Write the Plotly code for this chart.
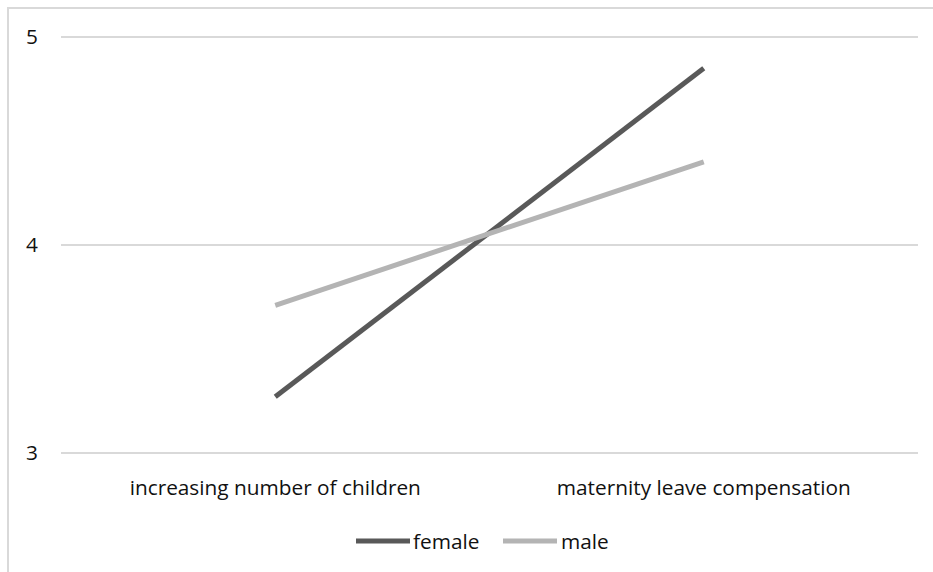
import plotly.graph_objects as go

categories = ["increasing number of children", "maternity leave compensation"]
series_names = ["female", "male"]
female = [3.27, 4.85]
male = [3.71, 4.40]
y_ticks = [3, 4, 5]
colors = ["#595959", "#b4b4b4"]

fig = go.Figure()
for name, vals, col in zip(series_names, [female, male], colors):
    fig.add_trace(go.Scatter(x=categories, y=vals, mode="lines", name=name,
                             line=dict(color=col, width=5), showlegend=False))

W, H = 933, 572
ml, mr, mt, mb = 61, 15, 35, 117
pw, ph = W - ml - mr, H - mt - mb

FONT = "Open Sans, sans-serif"
FS = 20.8
fig.update_layout(
    width=W, height=H,
    margin=dict(l=ml, r=mr, t=mt, b=mb),
    paper_bgcolor="white", plot_bgcolor="white",
    font=dict(family=FONT, size=FS, color="#111111"),
    showlegend=False,
    xaxis=dict(showgrid=False, showline=False, zeroline=False, ticks="",
               ticklabelstandoff=18, range=[-0.5, 1.5], automargin=False),
    yaxis=dict(range=[2.99, 5.01], tickvals=y_ticks, showgrid=True, gridcolor="#d9d9d9",
               gridwidth=1.5, zeroline=False, showline=False, ticks="",
               ticklabelstandoff=22, automargin=False),
)

def px_x(x):
    return (x - ml) / pw

def px_y(y):
    return (H - mb - y) / ph

# outer chart border (cropped at right and bottom)
fig.add_shape(type="rect", xref="paper", yref="paper",
              x0=px_x(8), x1=px_x(W + 5), y0=px_y(H + 5), y1=px_y(8),
              line=dict(color="#d9d9d9", width=2), fillcolor="rgba(0,0,0,0)", layer="below")

# custom legend
leg_y = 541
leg_items = [(356, 410, 411), (503, 557, 559)]
for (lx0, lx1, tx), name, col in zip(leg_items, series_names, colors):
    fig.add_shape(type="line", xref="paper", yref="paper",
                  x0=px_x(lx0), x1=px_x(lx1), y0=px_y(leg_y), y1=px_y(leg_y),
                  line=dict(color=col, width=5))
    fig.add_annotation(xref="paper", yref="paper", x=px_x(tx), y=px_y(leg_y),
                       text=name, showarrow=False, xanchor="left", yanchor="middle",
                       font=dict(family=FONT, size=FS, color="#111111"))

fig.write_html("out.html", config={"displayModeBar": False},
               post_script="document.body.style.margin='0';document.body.style.overflow='hidden';")
